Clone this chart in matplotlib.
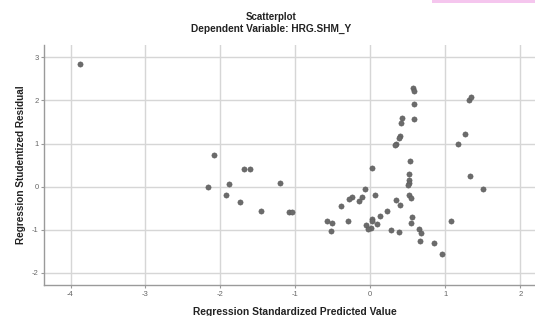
import matplotlib
matplotlib.use("Agg")
import matplotlib.pyplot as plt
from matplotlib.patches import Rectangle

plt.rcParams['font.family'] = ['Liberation Sans', 'DejaVu Sans']
plt.rcParams['axes.unicode_minus'] = False

pred_x = [-3.88, -2.09, -2.17, -1.88, -1.68, -1.61, -1.93, -1.74, -1.46, -1.20,
          -1.09, -1.05, 0.573, 0.578, 0.578, 0.578, 0.42, 0.41, 0.40, 0.38,
          0.34, 0.33, 0.53, 0.02, 0.51, 0.52, 0.51, 0.50, 1.32, 1.35,
          1.26, 1.165, 1.325, 1.50, -0.07, 0.063, -0.11, -0.24, -0.28, -0.15,
          -0.39, 0.34, 0.40, 0.52, 0.54, 0.22, 0.13, 0.56, 0.54, 0.02,
          0.02, 0.085, -0.06, 0.01, -0.03, 0.28, 0.38, -0.58, -0.51, -0.53,
          -0.30, 0.65, 0.67, 0.66, 0.85, 0.96, 1.07]
resid_y = [2.84, 0.735, -0.01, 0.06, 0.40, 0.40, -0.19, -0.36, -0.57, 0.08,
           -0.59, -0.59, 2.30, 2.23, 1.92, 1.58, 1.60, 1.48, 1.18, 1.12,
           1.00, 0.96, 0.60, 0.44, 0.30, 0.15, 0.09, 0.05, 2.00, 2.08,
           1.22, 1.00, 0.25, -0.06, -0.06, -0.19, -0.23, -0.23, -0.29, -0.33,
           -0.45, -0.31, -0.43, -0.19, -0.25, -0.56, -0.68, -0.71, -0.83, -0.76,
           -0.79, -0.87, -0.89, -0.95, -0.99, -1.00, -1.04, -0.80, -0.83, -1.02,
           -0.80, -0.98, -1.07, -1.26, -1.30, -1.56, -0.79]

x_ticks = [-4, -3, -2, -1, 0, 1, 2]
y_ticks = [-2, -1, 0, 1, 2, 3]

title = "Scatterplot"
subtitle = "Dependent Variable: HRG.SHM_Y"
xlabel = "Regression Standardized Predicted Value"
ylabel = "Regression Studentized Residual"

fig = plt.figure(figsize=(5.35, 3.16), dpi=100)
ax = fig.add_axes([0.0828, 0.098, 0.917, 0.760])

ax.scatter(pred_x, resid_y, s=14, color='#6b6b6b', edgecolors='#5a5a5a',
           linewidths=0.4, zorder=3)

ax.set_xlim(-4.35, 2.196)
ax.set_ylim(-2.28, 3.29)
ax.set_xticks(x_ticks)
ax.set_yticks(y_ticks)
ax.set_xticklabels([str(v) for v in x_ticks])
ax.set_yticklabels([str(v) for v in y_ticks])
ax.grid(True, color='#d6d6d6', linewidth=1.0, zorder=0)
ax.set_axisbelow(True)
for s in ['top', 'right']:
    ax.spines[s].set_visible(False)
for s in ['left', 'bottom']:
    ax.spines[s].set_color('#9a9a9a')
    ax.spines[s].set_linewidth(1.0)
ax.tick_params(axis='both', labelsize=5.5, colors='#9a9a9a', labelcolor='#666666',
               length=2, width=0.8, pad=2)

ax.set_xlabel(xlabel, fontsize=7.4, fontweight='bold', color='#222222', va='center')
ax.set_ylabel(ylabel, fontsize=7.2, fontweight='bold', color='#222222', va='center')
ax.xaxis.set_label_coords((294.7 - 44.3) / 490.7, (285 - 311.5) / 240)
ax.yaxis.set_label_coords((20.7 - 44.3) / 490.7, 0.5)

fig.text(271.5 / 535, 1 - 17.3 / 316, title, ha='center', va='center', fontsize=7,
         fontweight='bold', color='#222222')
fig.text(271.5 / 535, 1 - 28.5 / 316, subtitle, ha='center', va='center', fontsize=7.3,
         fontweight='bold', color='#222222')

fig.patches.append(Rectangle((432 / 535, 1 - 2.5 / 316), 103 / 535, 2.5 / 316,
                             transform=fig.transFigure, facecolor='#f5c6ee',
                             edgecolor='none'))

fig.savefig("out.png", dpi=100)
